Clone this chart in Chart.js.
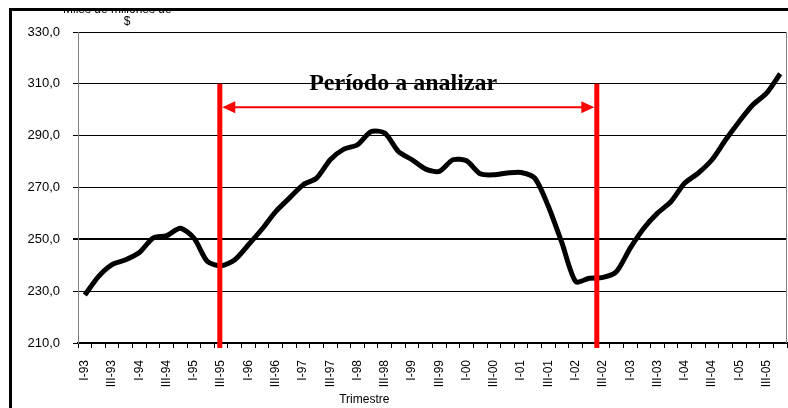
<!DOCTYPE html>
<html>
<head>
<meta charset="utf-8">
<script src="https://cdn.jsdelivr.net/npm/chart.js@4.4.1/dist/chart.umd.min.js"></script>
<style>
  html, body { margin: 0; padding: 0; background: #fff; }
  #wrap { width: 788px; height: 408px; position: relative; }
</style>
</head>
<body>
<div id="wrap"><canvas id="pibChart"></canvas></div>
<script>
// Quarters I-93 .. IV-05
const quarters = [
    'I-93', 'II-93', 'III-93', 'IV-93',
    'I-94', 'II-94', 'III-94', 'IV-94',
    'I-95', 'II-95', 'III-95', 'IV-95',
    'I-96', 'II-96', 'III-96', 'IV-96',
    'I-97', 'II-97', 'III-97', 'IV-97',
    'I-98', 'II-98', 'III-98', 'IV-98',
    'I-99', 'II-99', 'III-99', 'IV-99',
    'I-00', 'II-00', 'III-00', 'IV-00',
    'I-01', 'II-01', 'III-01', 'IV-01',
    'I-02', 'II-02', 'III-02', 'IV-02',
    'I-03', 'II-03', 'III-03', 'IV-03',
    'I-04', 'II-04', 'III-04', 'IV-04',
    'I-05', 'II-05', 'III-05', 'IV-05'
];

// Miles de millones de $
const values = [
    228.5, 235.6, 240.2, 242.1,
    244.9, 250.5, 251.4, 254.3,
    250.5, 241.4, 239.8, 242.1,
    247.9, 254.0, 260.7, 265.9,
    271.0, 273.6, 280.7, 284.8,
    286.5, 291.6, 291.0, 283.9,
    280.7, 277.1, 276.2, 280.7,
    280.3, 275.3, 274.9, 275.6,
    275.8, 273.6, 262.7, 248.5,
    233.7, 235.0, 235.3, 237.6,
    246.6, 254.3, 260.1, 264.6,
    271.7, 275.6, 280.7, 288.4,
    295.5, 301.9, 306.4, 313.9
];

const yTicks = [210, 230, 250, 270, 290, 310, 330];

// period to analyse: start / end (category positions), top value, arrow value
const periodMarks = [9.9, 37.55];
const periodTop = 310;
const arrowValue = 301;
const periodLabel = 'Período a analizar';

const FONT = "'Liberation Sans', Arial, sans-serif";

// Red marks, arrow and label of the analysed period
const periodPlugin = {
    id: 'periodPlugin',
    afterDatasetsDraw: function(chart) {
        const ctx = chart.ctx;
        const x = chart.scales.x;
        const y = chart.scales.y;
        const area = chart.chartArea;
        const x1 = x.getPixelForValue(periodMarks[0]);
        const x2 = x.getPixelForValue(periodMarks[1]);
        const top = y.getPixelForValue(periodTop);
        const ay = y.getPixelForValue(arrowValue);

        ctx.save();
        ctx.strokeStyle = '#ff0000';
        ctx.fillStyle = '#ff0000';

        // vertical bars
        ctx.lineWidth = 5;
        [x1, x2].forEach(function(px) {
            ctx.beginPath();
            ctx.moveTo(px, top);
            ctx.lineTo(px, area.bottom + 5);
            ctx.stroke();
        });

        // double arrow
        const l = x1 + 2.5, r = x2 - 2.5;
        ctx.lineWidth = 2;
        ctx.beginPath();
        ctx.moveTo(l + 10, ay);
        ctx.lineTo(r - 10, ay);
        ctx.stroke();
        ctx.beginPath();
        ctx.moveTo(l, ay);
        ctx.lineTo(l + 13, ay - 6);
        ctx.lineTo(l + 13, ay + 6);
        ctx.closePath();
        ctx.fill();
        ctx.beginPath();
        ctx.moveTo(r, ay);
        ctx.lineTo(r - 13, ay - 6);
        ctx.lineTo(r - 13, ay + 6);
        ctx.closePath();
        ctx.fill();

        // label
        ctx.fillStyle = '#000';
        ctx.font = "bold 24px 'Liberation Serif', 'Times New Roman', serif";
        ctx.textAlign = 'center';
        ctx.textBaseline = 'alphabetic';
        ctx.fillText(periodLabel, x.getPixelForValue(23.35), y.getPixelForValue(307.7));
        ctx.restore();
    },
    afterDraw: function(chart) {
        const ctx = chart.ctx;
        const area = chart.chartArea;
        const x = chart.scales.x;
        ctx.save();

        // right edge of plot area
        ctx.strokeStyle = '#808080';
        ctx.lineWidth = 1;
        ctx.beginPath();
        ctx.moveTo(area.right - 0.5, area.top);
        ctx.lineTo(area.right - 0.5, area.bottom);
        ctx.stroke();

        // unit label, its upper part hidden above the frame
        ctx.fillStyle = '#000';
        ctx.font = '12px ' + FONT;
        ctx.textAlign = 'left';
        ctx.textBaseline = 'alphabetic';
        ctx.fillText('Miles de millones de', 63, 12.5);
        ctx.fillStyle = '#ffffff';
        ctx.fillRect(40, 0, 200, 9);

        // outer frame (top and left)
        ctx.fillStyle = '#000';
        ctx.fillRect(9, 8, chart.width - 9, 3);
        ctx.fillRect(9, 8, 3, chart.height - 8);

        ctx.textAlign = 'center';
        ctx.fillText('$', 127, 25);

        // axis title
        ctx.font = '12px ' + FONT;
        ctx.fillText('Trimestre', x.getPixelForValue(20.5), area.bottom + 60);
        ctx.restore();
    }
};

const ctx = document.getElementById('pibChart').getContext('2d');
new Chart(ctx, {
    type: 'line',
    data: {
        labels: quarters,
        datasets: [{
            data: values,
            borderColor: '#000',
            borderWidth: 5,
            pointRadius: 0,
            tension: 0.25,
            fill: false
        }]
    },
    options: {
        responsive: true,
        maintainAspectRatio: false,
        animation: false,
        events: [],
        layout: {
            padding: { top: 32, right: 1, left: 0, bottom: 0 }
        },
        plugins: {
            legend: { display: false },
            tooltip: { enabled: false }
        },
        scales: {
            x: {
                type: 'category',
                offset: true,
                afterFit: function(scale) {
                    scale.height = 65;
                    scale.paddingLeft = 0;
                    scale.paddingRight = 0;
                },
                border: { color: '#000', width: 2 },
                grid: {
                    display: true,
                    offset: true,
                    drawOnChartArea: false,
                    drawTicks: true,
                    tickLength: 5,
                    color: '#000'
                },
                ticks: {
                    autoSkip: false,
                    maxRotation: 90,
                    minRotation: 90,
                    padding: 12,
                    color: '#000',
                    font: { family: FONT, size: 12 },
                    callback: function(value, index) {
                        return index % 2 === 0 ? quarters[index] : '';
                    }
                }
            },
            y: {
                min: 210,
                max: 330,
                afterFit: function(scale) { scale.width = 78; },
                afterBuildTicks: function(scale) {
                    scale.ticks = yTicks.map(function(v) { return { value: v }; });
                },
                border: { color: '#808080', width: 1 },
                grid: {
                    color: '#000',
                    lineWidth: function(c) { return c.tick && c.tick.value === 250 ? 2 : 1; },
                    tickLength: 5
                },
                ticks: {
                    padding: 13,
                    color: '#000',
                    font: { family: FONT, size: 13 },
                    callback: function(value) {
                        return value.toFixed(1).replace('.', ',');
                    }
                }
            }
        }
    },
    plugins: [periodPlugin]
});
</script>
</body>
</html>
